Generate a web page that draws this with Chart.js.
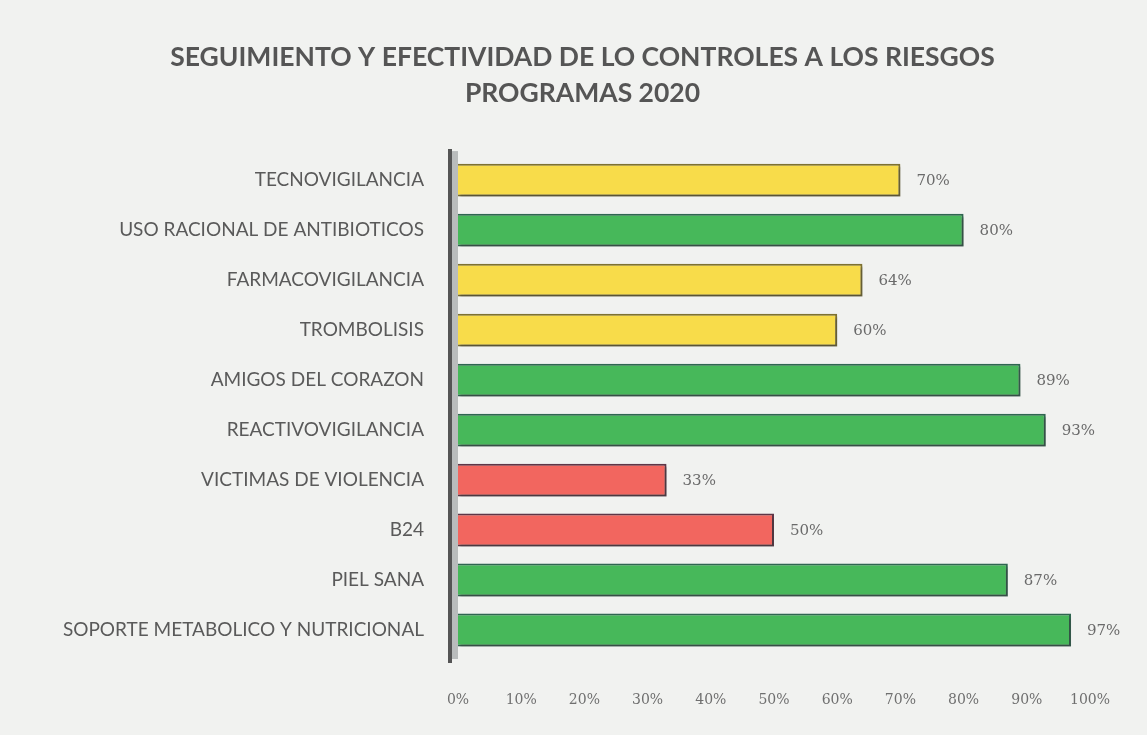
<!DOCTYPE html>
<html>
<head>
<meta charset="utf-8">
<script src="https://cdn.jsdelivr.net/npm/chart.js@4.4.1/dist/chart.umd.min.js"></script>
<style>
  html, body { margin: 0; padding: 0; background: #f1f2f0; }
  #wrap { width: 1147px; height: 735px; }
</style>
</head>
<body>
<div id="wrap"><canvas id="riesgosChart" width="1147" height="735"></canvas></div>
<script>
// programas y porcentaje de efectividad
const programas = [
  "TECNOVIGILANCIA",
  "USO RACIONAL DE ANTIBIOTICOS",
  "FARMACOVIGILANCIA",
  "TROMBOLISIS",
  "AMIGOS DEL CORAZON",
  "REACTIVOVIGILANCIA",
  "VICTIMAS DE VIOLENCIA",
  "B24",
  "PIEL SANA",
  "SOPORTE METABOLICO Y NUTRICIONAL"
];
const efectividad = [70, 80, 64, 60, 89, 93, 33, 50, 87, 97];
const ticksX = [0, 10, 20, 30, 40, 50, 60, 70, 80, 90, 100];

// semaforo: rojo < 60, amarillo < 80, verde >= 80
function semaforo(v) {
  if (v < 60) return { fill: "#f2665f", border: "#5e3646" };
  if (v < 80) return { fill: "#f8dc4a", border: "#7d7131" };
  return { fill: "#47b85a", border: "#2f6650" };
}

// eje vertical con pared gris + sombra de las barras
const paredPlugin = {
  id: "pared",
  afterLayout(chart) {
    // el titulo va un poco a la derecha del centro del lienzo
    if (chart.titleBlock) {
      chart.titleBlock.left += 16;
      chart.titleBlock.right += 16;
    }
  },
  beforeDatasetsDraw(chart) {
    const { ctx, chartArea } = chart;
    ctx.save();
    ctx.fillStyle = "#b9bcbc";
    ctx.fillRect(chartArea.left - 6, chartArea.top - 4, 6, chartArea.bottom - chartArea.top + 8);
    ctx.strokeStyle = "#555555";
    ctx.lineWidth = 4;
    ctx.beginPath();
    ctx.moveTo(chartArea.left - 8, chartArea.top - 6);
    ctx.lineTo(chartArea.left - 8, chartArea.bottom + 8);
    ctx.stroke();
    ctx.restore();
  },
  beforeDatasetDraw(chart) {
    const ctx = chart.ctx;
    ctx.save();
    ctx.shadowColor = "rgba(60,60,60,0.55)";
    ctx.shadowOffsetX = 2;
    ctx.shadowOffsetY = 3;
    ctx.shadowBlur = 2;
  },
  afterDatasetDraw(chart) {
    chart.ctx.restore();
  }
};

// etiquetas de valor al final de cada barra
const valoresPlugin = {
  id: "valores",
  afterDatasetsDraw(chart) {
    const { ctx } = chart;
    const meta = chart.getDatasetMeta(0);
    ctx.save();
    ctx.font = "15px 'DejaVu Serif'";
    ctx.fillStyle = "#6a6a6a";
    ctx.textBaseline = "middle";
    meta.data.forEach((bar, i) => {
      ctx.fillText(efectividad[i] + "%", bar.x + 16, bar.y + 1);
    });
    ctx.restore();
  }
};

const ctx = document.getElementById("riesgosChart").getContext("2d");
new Chart(ctx, {
  type: "bar",
  data: {
    labels: programas,
    datasets: [{
      data: efectividad,
      backgroundColor: efectividad.map((v) => semaforo(v).fill),
      borderColor: efectividad.map((v) => semaforo(v).border),
      borderWidth: 2,
      borderSkipped: "left",
      barPercentage: 0.82,
      categoryPercentage: 0.8
    }]
  },
  options: {
    indexAxis: "y",
    responsive: false,
    animation: false,
    layout: { padding: { left: 40, right: 54, top: 0, bottom: 20 } },
    plugins: {
      legend: { display: false },
      tooltip: { enabled: false },
      title: {
        display: true,
        text: ["SEGUIMIENTO Y EFECTIVIDAD DE LO CONTROLES A LOS RIESGOS", "PROGRAMAS 2020"],
        color: "#555555",
        font: { family: "Lato", size: 26.5, weight: "bold", lineHeight: 1.36 },
        padding: { top: 39, bottom: 44 }
      }
    },
    scales: {
      x: {
        min: 0,
        max: 100,
        afterBuildTicks: (axis) => { axis.ticks = ticksX.map((v) => ({ value: v })); },
        afterFit: (axis) => { axis.height = 60; },
        grid: { display: false, drawTicks: false },
        border: { display: false },
        ticks: {
          callback: (v) => v + "%",
          color: "#6f6f6f",
          font: { family: "DejaVu Serif", size: 14 },
          padding: 37,
          maxRotation: 0
        }
      },
      y: {
        afterFit: (axis) => { axis.width = 418; },
        grid: { display: false, drawTicks: false },
        border: { display: false },
        ticks: {
          color: "#5a5a5a",
          font: { family: "Lato", size: 19 },
          padding: 34
        }
      }
    }
  },
  plugins: [paredPlugin, valoresPlugin]
});
</script>
</body>
</html>
